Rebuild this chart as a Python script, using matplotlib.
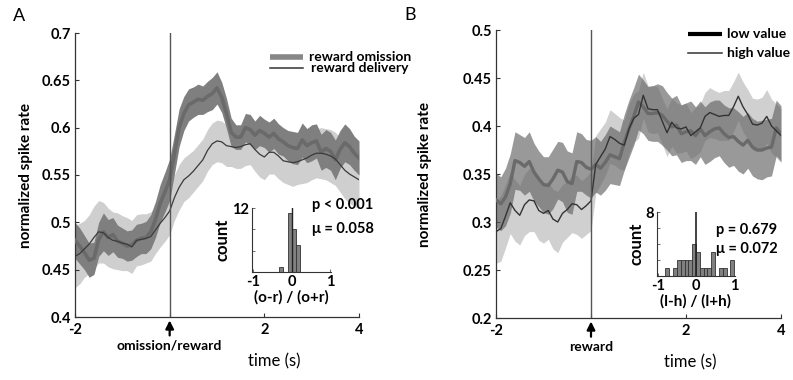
import matplotlib
matplotlib.use("Agg")
import matplotlib.pyplot as plt
import numpy as np

plt.rcParams["font.family"] = ["Lato", "DejaVu Sans"]

# time bins (s), 100 ms resolution
time_s = [round(-2.0 + 0.1 * i, 1) for i in range(61)]

# panel A: reward omission vs reward delivery
omission_mean = [
    0.481, 0.475, 0.468, 0.460, 0.462, 0.482, 0.490, 0.484, 0.487, 0.480,
    0.478, 0.475, 0.476, 0.481, 0.483, 0.484, 0.490, 0.503, 0.520, 0.532,
    0.545, 0.572, 0.600, 0.615, 0.624, 0.627, 0.630, 0.629, 0.633, 0.636,
    0.642, 0.632, 0.615, 0.595, 0.590, 0.590, 0.600, 0.598, 0.592, 0.597,
    0.594, 0.590, 0.594, 0.588, 0.585, 0.581, 0.579, 0.578, 0.587, 0.581,
    0.584, 0.586, 0.574, 0.578, 0.575, 0.566, 0.577, 0.584, 0.580, 0.573,
    0.568]
omission_sem = [
    0.019, 0.019, 0.018, 0.018, 0.017, 0.018, 0.020, 0.019, 0.018, 0.017,
    0.016, 0.016, 0.016, 0.017, 0.016, 0.017, 0.018, 0.019, 0.020, 0.021,
    0.022, 0.021, 0.020, 0.018, 0.017, 0.016, 0.016, 0.015, 0.016, 0.017,
    0.017, 0.016, 0.016, 0.015, 0.013, 0.013, 0.015, 0.016, 0.015, 0.016,
    0.015, 0.016, 0.016, 0.016, 0.015, 0.016, 0.017, 0.017, 0.018, 0.018,
    0.019, 0.018, 0.019, 0.020, 0.020, 0.021, 0.020, 0.020, 0.019, 0.018,
    0.018]
delivery_mean = [
    0.464, 0.467, 0.472, 0.477, 0.484, 0.490, 0.489, 0.484, 0.481, 0.480,
    0.478, 0.477, 0.474, 0.481, 0.482, 0.483, 0.485, 0.492, 0.499, 0.505,
    0.512, 0.526, 0.537, 0.545, 0.549, 0.554, 0.560, 0.566, 0.576, 0.583,
    0.586, 0.585, 0.581, 0.580, 0.579, 0.580, 0.582, 0.583, 0.577, 0.572,
    0.569, 0.574, 0.574, 0.570, 0.565, 0.564, 0.563, 0.564, 0.566, 0.568,
    0.571, 0.573, 0.573, 0.572, 0.570, 0.567, 0.561, 0.555, 0.551, 0.548,
    0.545]
delivery_sem = [
    0.033, 0.032, 0.030, 0.031, 0.033, 0.033, 0.032, 0.031, 0.030, 0.030,
    0.029, 0.028, 0.028, 0.027, 0.027, 0.026, 0.026, 0.025, 0.025, 0.025,
    0.025, 0.024, 0.024, 0.023, 0.023, 0.022, 0.022, 0.022, 0.022, 0.022,
    0.022, 0.022, 0.022, 0.021, 0.022, 0.023, 0.022, 0.022, 0.023, 0.024,
    0.024, 0.023, 0.023, 0.024, 0.023, 0.024, 0.025, 0.024, 0.025, 0.026,
    0.026, 0.026, 0.027, 0.027, 0.028, 0.028, 0.029, 0.030, 0.031, 0.031,
    0.031]

# panel B: low vs high value
low_mean = [
    0.323, 0.319, 0.326, 0.340, 0.364, 0.362, 0.358, 0.363, 0.352, 0.345,
    0.339, 0.338, 0.345, 0.354, 0.352, 0.342, 0.340, 0.363, 0.362, 0.357,
    0.355, 0.360, 0.356, 0.362, 0.370, 0.368, 0.366, 0.383, 0.397, 0.410,
    0.425, 0.420, 0.413, 0.413, 0.414, 0.411, 0.405, 0.399, 0.401, 0.392,
    0.394, 0.395, 0.390, 0.397, 0.390, 0.394, 0.397, 0.398, 0.392, 0.388,
    0.389, 0.384, 0.380, 0.385, 0.378, 0.375, 0.375, 0.377, 0.378, 0.398,
    0.392]
low_sem = [
    0.028, 0.028, 0.030, 0.031, 0.030, 0.029, 0.030, 0.031, 0.030, 0.029,
    0.029, 0.030, 0.031, 0.030, 0.031, 0.032, 0.032, 0.031, 0.030, 0.029,
    0.030, 0.029, 0.028, 0.029, 0.030, 0.029, 0.028, 0.029, 0.030, 0.030,
    0.029, 0.028, 0.028, 0.029, 0.030, 0.031, 0.030, 0.030, 0.031, 0.030,
    0.030, 0.031, 0.030, 0.029, 0.030, 0.031, 0.030, 0.029, 0.030, 0.031,
    0.030, 0.031, 0.030, 0.029, 0.030, 0.030, 0.031, 0.030, 0.030, 0.029,
    0.029]
high_mean = [
    0.290, 0.293, 0.306, 0.320, 0.312, 0.307, 0.318, 0.323, 0.322, 0.312,
    0.309, 0.312, 0.303, 0.300, 0.309, 0.313, 0.319, 0.318, 0.313, 0.317,
    0.322, 0.360, 0.368, 0.376, 0.389, 0.386, 0.382, 0.380, 0.397, 0.408,
    0.412, 0.432, 0.418, 0.417, 0.417, 0.405, 0.393, 0.404, 0.398, 0.397,
    0.399, 0.390, 0.394, 0.398, 0.410, 0.414, 0.412, 0.410, 0.411, 0.411,
    0.420, 0.431, 0.420, 0.412, 0.402, 0.401, 0.403, 0.410, 0.400, 0.395,
    0.390]
high_sem = [
    0.033, 0.034, 0.033, 0.032, 0.032, 0.031, 0.032, 0.033, 0.032, 0.031,
    0.031, 0.030, 0.031, 0.032, 0.030, 0.029, 0.030, 0.031, 0.030, 0.030,
    0.031, 0.030, 0.029, 0.028, 0.028, 0.027, 0.027, 0.026, 0.026, 0.025,
    0.025, 0.024, 0.024, 0.025, 0.024, 0.024, 0.025, 0.025, 0.026, 0.025,
    0.025, 0.024, 0.025, 0.025, 0.025, 0.026, 0.025, 0.025, 0.026, 0.026,
    0.026, 0.025, 0.026, 0.026, 0.027, 0.027, 0.027, 0.028, 0.028, 0.028,
    0.028]

# inset histograms: per-neuron index
hist_a_centers = [-0.265, -0.155, -0.045, 0.065, 0.175]
hist_a_counts = [1, 0, 11, 8, 5]
hist_b_centers = [-0.75, -0.65, -0.55, -0.45, -0.35, -0.25, -0.15, -0.05, 0.05,
                  0.15, 0.25, 0.35, 0.45, 0.55, 0.65, 0.75, 0.85, 0.95]
hist_b_counts = [1, 0, 1, 2, 2, 2, 2, 4, 3, 1, 1, 1, 3, 0, 1, 1, 0, 2]

W, H = 793, 380
fig = plt.figure(figsize=(W / 100, H / 100), dpi=100)


def px_axes(x0, y0, x1, y1):
    return fig.add_axes([x0 / W, 1 - y1 / H, (x1 - x0) / W, (y1 - y0) / H])


def style_main(ax, ylim, yticks, ylabels, xpos_label):
    ax.set_xlim(-2, 4)
    ax.set_ylim(*ylim)
    for s in ("top", "right"):
        ax.spines[s].set_visible(False)
    for s in ("left", "bottom"):
        ax.spines[s].set_color("#333333")
        ax.spines[s].set_linewidth(0.9)
    ax.set_yticks(yticks)
    ax.set_yticklabels(ylabels, fontsize=10.5, fontweight="bold")
    ax.set_xticks([-2, 0, 2, 4])
    ax.set_xticklabels(["-2", "", "2", "4"], fontsize=10.5, fontweight="bold")
    ax.tick_params(direction="in", length=3, width=0.8, colors="#333333",
                   labelcolor="black")
    ax.tick_params(axis="x", pad=4)
    ax.tick_params(axis="y", pad=3)
    ax.axvline(0, color="#555555", lw=1.0, zorder=5)
    ax.annotate("", xy=(0, -0.012), xytext=(0, -0.065),
                xycoords=("data", "axes fraction"),
                arrowprops=dict(arrowstyle="-|>", color="black", lw=1.6,
                                mutation_scale=12, shrinkA=0, shrinkB=0),
                annotation_clip=False)
    ax.text(xpos_label[0], -0.1, xpos_label[1], transform=ax.get_xaxis_transform(),
            ha="center", va="center", fontsize=10, fontweight="bold")


def style_inset(ax, top, ytick_step, xlabel):
    ax.set_xlim(-1.02, 1.02)
    ax.set_ylim(0, top)
    for s in ("top", "right"):
        ax.spines[s].set_visible(False)
    for s in ("left", "bottom"):
        ax.spines[s].set_color("#333333")
        ax.spines[s].set_linewidth(0.8)
    yt = list(range(0, top + 1, ytick_step))
    ax.set_yticks(yt)
    ax.set_yticklabels([""] * (len(yt) - 1) + [str(top)], fontsize=10.5,
                       fontweight="bold")
    ax.set_xticks([-1, 0, 1])
    ax.set_xticklabels(["-1", "0", "1"], fontsize=10.5, fontweight="bold")
    ax.tick_params(direction="in", length=2.5, width=0.6, colors="#555555",
                   labelcolor="black", pad=2)
    ax.set_xlabel(xlabel, fontsize=11, fontweight="bold", labelpad=1)
    ax.set_ylabel("count", fontsize=12, fontweight="bold", labelpad=1)
    ax.patch.set_alpha(0)


# ---- panel A ----
axA = px_axes(75, 33, 359, 317)
t = np.array(time_s)
om, oms = np.array(omission_mean), np.array(omission_sem)
de, des = np.array(delivery_mean), np.array(delivery_sem)
axA.fill_between(t, de - des, de + des, color="#cfcfcf", lw=0, zorder=1)
axA.fill_between(t, om - oms, om + oms, color="#7f7f7f", lw=0, zorder=2)
axA.plot(t, om, color="#6a6a6a", lw=2.6, zorder=3)
axA.plot(t, de, color="#3a3a3a", lw=0.9, zorder=4)
style_main(axA, (0.4, 0.7), [0.4, 0.45, 0.5, 0.55, 0.6, 0.65, 0.7],
           ["0.4", "0.45", "0.5", "0.55", "0.6", "0.65", "0.7"],
           (0, "omission/reward"))
axA.set_ylabel("normalized spike rate", fontsize=11, fontweight="bold")
axA.yaxis.set_label_coords(-0.148, 0.5)
axA.text(0.70, -0.158, "time (s)", transform=axA.transAxes, ha="center",
         va="center", fontsize=12)
# legend
axA.plot([0.687, 0.803], [0.915, 0.915], transform=axA.transAxes,
         color="#878787", lw=4, solid_capstyle="butt", clip_on=False)
axA.plot([0.687, 0.803], [0.877, 0.877], transform=axA.transAxes,
         color="#333333", lw=1.1, clip_on=False)
axA.text(0.825, 0.915, "reward omission", transform=axA.transAxes,
         va="center", fontsize=10, fontweight="bold")
axA.text(0.830, 0.877, "reward delivery", transform=axA.transAxes,
         va="center", fontsize=10, fontweight="bold")
fig.text(19 / W, 1 - 16 / H, "A", fontsize=13, ha="center", va="center")

insA = px_axes(252, 208, 331, 272)
insA.bar(hist_a_centers, hist_a_counts, width=0.11, color="#808080",
         edgecolor="#333333", lw=0.6)
insA.plot([0, 0], [0, 12], color="#222222", lw=1.0)
style_inset(insA, 12, 4, "(o-r) / (o+r)")
insA.text(0.76, 1.05, "p < 0.001", transform=insA.transAxes, va="center",
          fontsize=10.5, fontweight="bold")
insA.text(0.76, 0.67, "μ = 0.058", transform=insA.transAxes, va="center",
          fontsize=10.5, fontweight="bold")

# ---- panel B ----
axB = px_axes(496, 30, 781, 318)
lo, los = np.array(low_mean), np.array(low_sem)
hi, his = np.array(high_mean), np.array(high_sem)
axB.fill_between(t, hi - his, hi + his, color="#d0d0d0", lw=0, zorder=1)
axB.fill_between(t, lo - los, lo + los, color="#606060", alpha=0.64, lw=0,
                 zorder=2)
axB.plot(t, lo, color="#6a6a6a", lw=2.4, zorder=3)
axB.plot(t, hi, color="#333333", lw=1.0, zorder=4)
style_main(axB, (0.2, 0.5), [0.2, 0.25, 0.3, 0.35, 0.4, 0.45, 0.5],
           ["0.2", "0.25", "0.3", "0.35", "0.4", "0.45", "0.5"],
           (0, "reward"))
axB.set_ylabel("normalized spike rate", fontsize=11, fontweight="bold")
axB.yaxis.set_label_coords(-0.225, 0.5)
axB.text(0.68, -0.153, "time (s)", transform=axB.transAxes, ha="center",
         va="center", fontsize=12)
axB.plot([0.674, 0.793], [0.986, 0.986], transform=axB.transAxes,
         color="black", lw=3, solid_capstyle="butt", clip_on=False)
axB.plot([0.674, 0.793], [0.920, 0.920], transform=axB.transAxes,
         color="#333333", lw=1.1, clip_on=False)
axB.text(0.812, 0.986, "low value", transform=axB.transAxes, va="center",
         fontsize=10, fontweight="bold")
axB.text(0.812, 0.920, "high value", transform=axB.transAxes, va="center",
         fontsize=10, fontweight="bold")
fig.text(410 / W, 1 - 15 / H, "B", fontsize=13, ha="center", va="center")

insB = px_axes(657, 212, 735, 276)
insB.bar(hist_b_centers, hist_b_counts, width=0.1, color="#808080",
         edgecolor="#333333", lw=0.6)
insB.plot([0, 0], [0, 8], color="#222222", lw=1.2)
style_inset(insB, 8, 2, "(l-h) / (l+h)")
insB.text(0.756, 0.72, "p = 0.679", transform=insB.transAxes, va="center",
          fontsize=10.5, fontweight="bold")
insB.text(0.756, 0.42, "μ = 0.072", transform=insB.transAxes, va="center",
          fontsize=10.5, fontweight="bold")

fig.savefig("out.png", dpi=100)
